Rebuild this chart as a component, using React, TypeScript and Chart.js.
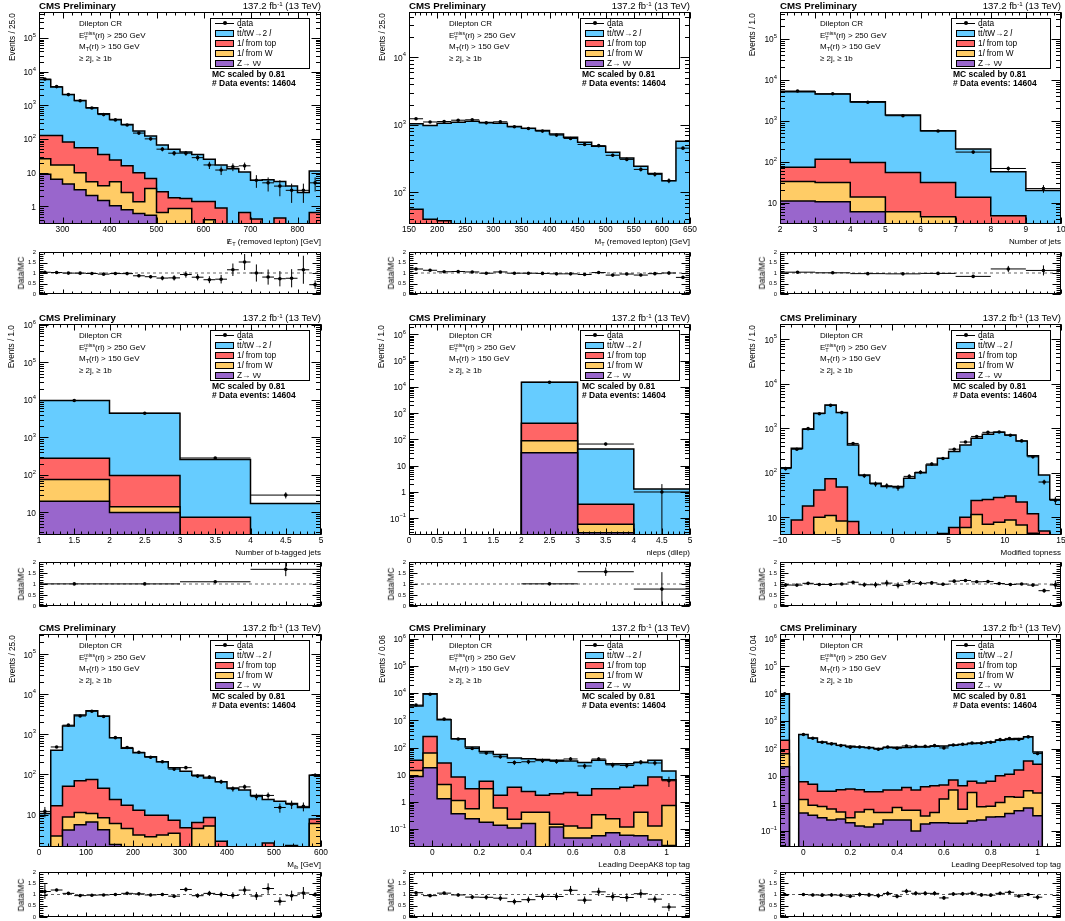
import React, { useEffect, useRef } from 'react';
import { Chart, registerables } from 'chart.js';

Chart.register(...registerables);

const FONT = "'Liberation Sans', Arial, Helvetica, sans-serif";
const C_DILEP = '#66ccff';
const C_TOP = '#ff6666';
const C_W = '#ffcc66';
const C_ZNN = '#9966cc';
const TINY = 1e-7;

// ================= DATA =================
// Panel 1: MET (removed lepton), 250-850, 25 GeV bins
const metRange = [250, 850];
const metYRange = [0.32, 5.9e5];
const metDecades = [0, 1, 2, 3, 4, 5];
const metXTicks = [300, 400, 500, 600, 700, 800];
const metDilep = [5672, 3392, 2009, 1325, 795, 525, 356, 254, 163, 116, 63.3, 47.7, 39.3, 33.6, 23.6, 16.1, 13, 9.84, 5.58, 6.2, 5.05, 4.0, 2.6, 10.6];
const metTop = [102, 111, 64, 45, 49.6, 30.9, 18.6, 13.4, 8.63, 3.3, 2.04, 0.93, 0.83, 1.4, 1.0, 0.9, 0, 0.66, 0.42, 0, 0.45, 0, 0, 0.66];
const metW = [17, 10.6, 12.4, 6.9, 3.3, 2.6, 4.35, 1.8, 0.75, 2.85, 0.66, 0.87, 0.87, 0, 0.4, 0, 0, 0, 0, 0, 0, 0, 0, 0];
const metZnn = [9.0, 6.4, 4.6, 3.1, 2.1, 1.5, 1.05, 0.8, 0.62, 0.55, 0, 0, 0, 0, 0, 0, 0, 0, 0, 0, 0, 0, 0, 0];
const metData = [6000, 3600, 2080, 1370, 830, 530, 370, 262, 150, 101, 50, 38, 38, 28, 17, 12, 15, 16, 6, 5, 4, 3, 3, 5];

// Panel 2: MT (removed lepton), 150-650
const mtRange = [150, 650];
const mtYRange = [34, 4.7e4];
const mtDecades = [2, 3, 4];
const mtXTicks = [150, 200, 250, 300, 350, 400, 450, 500, 550, 600, 650];
const mtDilep = [979, 937, 1020, 1095, 1133, 1083, 1058, 945, 891, 824, 735, 655, 552, 482, 393, 324, 243, 191, 149, 572];
const mtTop = [56, 40, 38, 0, 0, 0, 0, 0, 0, 0, 0, 0, 0, 0, 0, 0, 0, 0, 0, 0];
const mtW = [0, 0, 0, 0, 0, 0, 0, 0, 0, 0, 0, 0, 0, 0, 0, 0, 0, 0, 0, 0];
const mtZnn = [0, 0, 0, 0, 0, 0, 0, 0, 0, 0, 0, 0, 0, 0, 0, 0, 0, 0, 0, 0];
const mtData = [1232, 1104, 1121, 1172, 1190, 1072, 1111, 936, 882, 808, 706, 629, 513, 492, 354, 308, 219, 185, 149, 452];

// Panel 3: Number of jets, 2-10
const njRange = [2, 10];
const njYRange = [3.0, 4.5e5];
const njDecades = [1, 2, 3, 4, 5];
const njXTicks = [2, 3, 4, 5, 6, 7, 8, 9, 10];
const njDilep = [5027, 4366, 2805, 1321, 539, 190.5, 52.2, 19.6];
const njTop = [40.5, 83, 81.3, 48, 26.5, 13.5, 4.8, 0];
const njW = [21.6, 20.5, 7.7, 6.0, 4.5, 0, 0, 0];
const njZnn = [10.9, 10.5, 6.0, 0, 0, 0, 0, 0];
const njData = [5300, 4525, 2813, 1320, 559, 171, 68, 22];

// Panel 4: Number of b-tagged jets, 1-5
const nbRange = [1, 5];
const nbYRange = [2.5, 1.06e6];
const nbDecades = [1, 2, 3, 4, 5, 6];
const nbXTicks = [1, 1.5, 2, 2.5, 3, 3.5, 4, 4.5, 5];
const nbDilep = [9322, 4304, 249.6, 17.4];
const nbTop = [202, 81.8, 7.4, 0];
const nbW = [56, 4.2, 0, 0];
const nbZnn = [20, 10, 0, 0];
const nbData = [9650, 4420, 283, 29];

// Panel 5: nleps (dilep), 0-5
const nlRange = [0, 5];
const nlYRange = [0.023, 2.5e6];
const nlDecades = [-1, 0, 1, 2, 3, 4, 5, 6];
const nlXTicks = [0, 0.5, 1, 1.5, 2, 2.5, 3, 3.5, 4, 4.5, 5];
const nlDilep = [0, 0, 14585, 42.66, 1.3];
const nlTop = [0, 0, 326, 0.281, 0];
const nlW = [0, 0, 58, 0.031, 0];
const nlZnn = [0, 0, 31, 0.028, 0];
const nlData = [0, 0, 15100, 67, 1];

// Panel 6: Modified topness, -10..15
const tpRange = [-10, 15];
const tpYRange = [4.0, 2.2e5];
const tpDecades = [1, 2, 3, 4, 5];
const tpXTicks = [-10, -5, 0, 5, 10, 15];
const tpDilep = [130, 346.3, 932, 2129, 3267, 2202, 414, 89, 58, 49, 49, 75, 100, 150, 207.7, 294.1, 412, 571.3, 705, 782, 680, 498, 228, 84.1, 25];
const tpTop = [0, 8.7, 18, 31, 62.1, 39.7, 8, 0, 0, 0, 0, 0, 0, 0, 4.3, 5.9, 4.1, 12.2, 18, 20.3, 21.3, 15.3, 7.6, 4.9, 0];
const tpW = [0, 0, 0, 10, 10.9, 8.3, 0, 0, 0, 0, 0, 0, 0, 0, 0, 0, 5.9, 11.5, 7, 7.7, 8.7, 6.7, 4.4, 0, 0];
const tpZnn = [0, 0, 0, 0, 0, 0, 0, 0, 0, 0, 0, 0, 0, 0, 0, 0, 0, 0, 0, 0, 0, 0, 0, 0, 0];
const tpData = [124, 337, 979, 2127, 3273, 2250, 456, 86, 56, 51, 46, 83, 103, 158, 210, 339, 490, 655, 810, 826, 696, 520, 228, 62, 24];

// Panel 7: M_lb, 0-600
const mlbRange = [0, 600];
const mlbYRange = [1.55, 3.2e5];
const mlbDecades = [1, 2, 3, 4, 5];
const mlbXTicks = [0, 100, 200, 300, 400, 500, 600];
const mlbDilep = [10.6, 388.5, 1569, 2960, 3825, 2815, 806.3, 433, 335.2, 266.4, 197.4, 139.8, 116.3, 89.7, 73.6, 63.85, 46, 41, 30, 21.75, 21.5, 17.3, 15, 88.3];
const mlbTop = [0, 13.6, 42.3, 58.8, 64.4, 36.7, 17.7, 12.5, 9.7, 6.8, 6.5, 3.8, 4.7, 1.8, 3.2, 2.15, 0, 0, 0, 1.95, 0, 1.7, 0, 1.7];
const mlbW = [0, 2.9, 4.6, 5.6, 4.1, 4.1, 4.2, 4.5, 3.1, 2.8, 3.1, 3.4, 0, 4.5, 5.2, 0, 0, 0, 0, 0, 0, 0, 0, 6.0];
const mlbZnn = [0, 0, 4.1, 5.6, 6.5, 4.2, 1.8, 0, 0, 0, 0, 0, 0, 0, 0, 0, 0, 0, 0, 0, 0, 0, 0, 0];
const mlbData = [12, 486, 1700, 2880, 3780, 2800, 830, 473, 358, 270, 207, 136, 148, 91, 86, 66, 44, 49, 28, 30, 15, 18, 16, 96];

// Panel 8: Leading DeepAK8 top tag, -0.1..1.1
const ak8Range = [-0.1, 1.1];
const ak8YRange = [0.022, 1.5e6];
const ak8Decades = [-1, 0, 1, 2, 3, 4, 5, 6];
const ak8XTicks = [0, 0.2, 0.4, 0.6, 0.8, 1];
const ak8Dilep = [3346, 9343, 1023, 202.8, 100.95, 66.2, 53.25, 37.5, 36.6, 34.25, 32, 29.8, 26.25, 30.95, 22.35, 21.9, 24, 25.8, 7.1, 0];
const ak8Top = [19.6, 194, 22.6, 7.06, 2.49, 2.75, 1.15, 3.27, 1.98, 1.33, 1.85, 2.07, 1.64, 2.71, 2.81, 3.38, 3.58, 8.07, 5.76, 0];
const ak8W = [5.7, 45, 3.1, 0.77, 0.32, 2.87, 0.46, 0.12, 0.26, 0.42, 0.03, 0.083, 0.063, 0.283, 0.166, 0.06, 0.363, 0.09, 0.715, 0];
const ak8Znn = [8.7, 18, 1.3, 0.37, 0.24, 0.18, 0.14, 0.11, 0.16, 0, 0.12, 0.047, 0.047, 0.057, 0.074, 0.06, 0.057, 0.04, 0.025, 0];
const ak8Data = [3650, 9120, 1113, 207, 92, 63, 46, 28, 30, 33, 31, 38, 21, 38, 23, 22, 29, 27, 6, 0];

// Panel 9: Leading DeepResolved top tag, -0.1..1.1
const resRange = [-0.1, 1.1];
const resYRange = [0.026, 1.5e6];
const resDecades = [-1, 0, 1, 2, 3, 4, 5, 6];
const resXTicks = [0, 0.2, 0.4, 0.6, 0.8, 1];
const resDilep = [9800, 0, 318.8, 240, 172.2, 149.2, 129.8, 118.6, 111.8, 106.3, 97.3, 105.9, 108.9, 105.15, 111.9, 110.9, 117.6, 120.3, 125.8, 135.6, 145.6, 155.4, 168.6, 191.7, 202.4, 215.3, 233, 48, 0, 0];
const resTop = [135, 0, 4.8, 4.13, 2.03, 2.17, 2.71, 3.1, 2.71, 2.1, 2.23, 2.63, 2.39, 3.28, 2.53, 3.75, 3.93, 3.25, 4.1, 3.78, 3.9, 4.84, 5.6, 9.21, 9.84, 15.0, 32.1, 24.6, 0, 0];
const resW = [43, 0, 0.95, 0.5, 0.47, 0.38, 0.22, 0.1, 0.34, 0.46, 0.29, 0.22, 0.46, 0.32, 0.47, 0.17, 0.27, 1.25, 2.91, 0.43, 2.27, 0.51, 0.48, 0.76, 1.33, 1.16, 2.21, 2.04, 0, 0];
const resZnn = [22, 0, 0.45, 0.37, 0.3, 0.25, 0.27, 0.2, 0.15, 0.14, 0.18, 0.25, 0.25, 0.25, 0.1, 0.18, 0.2, 0.2, 0.19, 0.19, 0.23, 0.25, 0.32, 0.33, 0.43, 0.54, 0.69, 0.36, 0, 0];
const resData = [10000, 0, 325, 240, 170, 149, 129, 113, 115, 107, 95, 114, 103, 125, 121, 121, 128, 106, 136, 144, 160, 158, 170, 212, 235, 216, 268, 66, 0, 0];

const ratioTicks = [0, 0.5, 1, 1.5, 2];
const ratioLabels = ['0', '0.5', '1', '1.5', '2'];

// ================= GEOMETRY =================
const COL_X = [39, 409, 780];
const COL_WID = [282, 281, 281];
const ROW_TOP = [12, 324, 634];
const ROW_BOT = [224, 535, 847];
const RAT_TOP = [252, 562, 872];
const RAT_BOT = [294, 606, 917];
const PAD_L = 40;
const PAD_R = 10;
const PAD_T = 4;
const X_AX_H = 16;

type Spec = {
  col: number; row: number;
  range: number[]; yRange: number[]; decades: number[];
  xTicks: number[]; xMinor: number;
  yTitle: string; xTitle: React.ReactNode;
  dilep: number[]; top: number[]; w: number[]; znn: number[]; data: number[];
};

const Sub = ({ children }: any) => (
  <span style={{ fontSize: '0.7em', position: 'relative', top: '0.35em' }}>{children}</span>
);
const Sup = ({ children }: any) => (
  <span style={{ fontSize: '0.65em', position: 'relative', top: '-0.5em' }}>{children}</span>
);
const SlashE = () => (
  <span style={{ position: 'relative', display: 'inline-block' }}>
    E
    <span style={{ position: 'absolute', left: '0.12em', top: 0 }}>/</span>
  </span>
);

const PANELS: Spec[] = [
  { col: 0, row: 0, range: metRange, yRange: metYRange, decades: metDecades, xTicks: metXTicks, xMinor: 20, yTitle: 'Events / 25.0',
    xTitle: <><SlashE /><Sub>T</Sub> (removed lepton) [GeV]</>, dilep: metDilep, top: metTop, w: metW, znn: metZnn, data: metData },
  { col: 1, row: 0, range: mtRange, yRange: mtYRange, decades: mtDecades, xTicks: mtXTicks, xMinor: 10, yTitle: 'Events / 25.0',
    xTitle: <>M<Sub>T</Sub> (removed lepton) [GeV]</>, dilep: mtDilep, top: mtTop, w: mtW, znn: mtZnn, data: mtData },
  { col: 2, row: 0, range: njRange, yRange: njYRange, decades: njDecades, xTicks: njXTicks, xMinor: 0.2, yTitle: 'Events / 1.0',
    xTitle: <>Number of jets</>, dilep: njDilep, top: njTop, w: njW, znn: njZnn, data: njData },
  { col: 0, row: 1, range: nbRange, yRange: nbYRange, decades: nbDecades, xTicks: nbXTicks, xMinor: 0.1, yTitle: 'Events / 1.0',
    xTitle: <>Number of b-tagged jets</>, dilep: nbDilep, top: nbTop, w: nbW, znn: nbZnn, data: nbData },
  { col: 1, row: 1, range: nlRange, yRange: nlYRange, decades: nlDecades, xTicks: nlXTicks, xMinor: 0.1, yTitle: 'Events / 1.0',
    xTitle: <>nleps (dilep)</>, dilep: nlDilep, top: nlTop, w: nlW, znn: nlZnn, data: nlData },
  { col: 2, row: 1, range: tpRange, yRange: tpYRange, decades: tpDecades, xTicks: tpXTicks, xMinor: 1, yTitle: 'Events / 1.0',
    xTitle: <>Modified topness</>, dilep: tpDilep, top: tpTop, w: tpW, znn: tpZnn, data: tpData },
  { col: 0, row: 2, range: mlbRange, yRange: mlbYRange, decades: mlbDecades, xTicks: mlbXTicks, xMinor: 20, yTitle: 'Events / 25.0',
    xTitle: <>M<Sub><i>l</i>b</Sub> [GeV]</>, dilep: mlbDilep, top: mlbTop, w: mlbW, znn: mlbZnn, data: mlbData },
  { col: 1, row: 2, range: ak8Range, yRange: ak8YRange, decades: ak8Decades, xTicks: ak8XTicks, xMinor: 0.04, yTitle: 'Events / 0.06',
    xTitle: <>Leading DeepAK8 top tag</>, dilep: ak8Dilep, top: ak8Top, w: ak8W, znn: ak8Znn, data: ak8Data },
  { col: 2, row: 2, range: resRange, yRange: resYRange, decades: resDecades, xTicks: resXTicks, xMinor: 0.04, yTitle: 'Events / 0.04',
    xTitle: <>Leading DeepResolved top tag</>, dilep: resDilep, top: resTop, w: resW, znn: resZnn, data: resData },
];

// ================= HELPERS =================
function minorList(lo: number, hi: number, step: number) {
  const out: number[] = [];
  for (let k = Math.ceil(lo / step - 1e-6); k * step <= hi + 1e-9; k++) out.push(+(k * step).toFixed(6));
  return out;
}
function logMinors(min: number, max: number) {
  const out: number[] = [];
  for (let e = Math.floor(Math.log10(min)); e <= Math.ceil(Math.log10(max)); e++) {
    for (let m = 2; m <= 9; m++) {
      const v = m * Math.pow(10, e);
      if (v > min && v < max) out.push(v);
    }
  }
  return out;
}
function fmtX(v: number) {
  return v < 0 ? '\u2212' + String(Math.abs(v)) : String(v);
}
function makeEdges(range: number[], n: number) {
  return Array.from({ length: n + 1 }, (_, i) => range[0] + ((range[1] - range[0]) * i) / n);
}
function stepPts(edges: number[], vals: number[]) {
  const pts = vals.map((v, i) => ({ x: edges[i], y: v > 0 ? v : TINY }));
  const last = vals[vals.length - 1];
  pts.push({ x: edges[vals.length], y: last > 0 ? last : TINY });
  return pts;
}
function errPts(edges: number[], vals: number[], errs: number[], floor: number) {
  const pts: any[] = [];
  vals.forEach((v, i) => {
    if (!(v > 0) || !isFinite(v)) return;
    const xc = (edges[i] + edges[i + 1]) / 2;
    pts.push({ x: edges[i], y: v }, { x: edges[i + 1], y: v }, { x: xc, y: null });
    pts.push({ x: xc, y: Math.max(v - errs[i], floor) }, { x: xc, y: v + errs[i] }, { x: xc, y: null });
  });
  return pts;
}

const rootAxesPlugin = {
  id: 'rootAxes',
  afterDatasetsDraw(chart: any, _args: any, o: any) {
    const { ctx, chartArea: a } = chart;
    const xs = chart.scales.x;
    const ys = chart.scales.y;
    ctx.save();
    ctx.strokeStyle = '#000';
    ctx.lineWidth = 1;
    const L = Math.round(a.left) + 0.5;
    const R = Math.round(a.right) - 0.5;
    const T = Math.round(a.top) + 0.5;
    const B = Math.round(a.bottom) - 0.5;
    ctx.beginPath();
    const xt = (v: number, len: number) => {
      if (v < xs.min - 1e-9 || v > xs.max + 1e-9) return;
      const p = Math.round(xs.getPixelForValue(v)) + 0.5;
      ctx.moveTo(p, B); ctx.lineTo(p, B - len);
      ctx.moveTo(p, T); ctx.lineTo(p, T + len);
    };
    const yt = (v: number, len: number) => {
      if (v < ys.min - 1e-12 || v > ys.max) return;
      const p = Math.round(ys.getPixelForValue(v)) + 0.5;
      ctx.moveTo(L, p); ctx.lineTo(L + len, p);
      ctx.moveTo(R, p); ctx.lineTo(R - len, p);
    };
    o.xMajor.forEach((v: number) => xt(v, o.xLen[0]));
    o.xMinor.forEach((v: number) => xt(v, o.xLen[1]));
    o.yMajor.forEach((v: number) => yt(v, o.yLen[0]));
    o.yMinor.forEach((v: number) => yt(v, o.yLen[1]));
    ctx.stroke();
    ctx.strokeRect(L, T, R - L, B - T);

    ctx.fillStyle = '#000';
    ctx.textAlign = 'right';
    ctx.textBaseline = 'middle';
    const xr = a.left - 3;
    if (o.log) {
      const big = `8.4px ${FONT}`;
      const small = `5.8px ${FONT}`;
      o.decades.forEach((e: number) => {
        const py = ys.getPixelForValue(Math.pow(10, e));
        if (e === 0 || e === 1) {
          ctx.font = big;
          ctx.fillText(e === 0 ? '1' : '10', xr, py + 1);
        } else {
          const es = e < 0 ? '\u2212' + String(-e) : String(e);
          ctx.font = small;
          const we = ctx.measureText(es).width;
          ctx.fillText(es, xr, py - 2.5);
          ctx.font = big;
          ctx.fillText('10', xr - we, py + 1);
        }
      });
    } else {
      ctx.font = `5.8px ${FONT}`;
      o.yMajor.forEach((v: number, i: number) => {
        const py = ys.getPixelForValue(v);
        ctx.fillText(o.yLabels[i], xr, py);
      });
    }
    ctx.restore();
  },
};

function MainChart({ s }: { s: Spec }) {
  const ref = useRef<HTMLCanvasElement>(null);
  const fx = COL_X[s.col], fw = COL_WID[s.col], fy = ROW_TOP[s.row], fb = ROW_BOT[s.row];
  const fh = fb - fy;
  const cw = fw + PAD_L + PAD_R;
  const ch = fh + PAD_T + X_AX_H;
  useEffect(() => {
    const n = s.data.length;
    const edges = makeEdges(s.range, n);
    const cZ = s.znn.slice();
    const cW = cZ.map((v, i) => v + s.w[i]);
    const cT = cW.map((v, i) => v + s.top[i]);
    const cD = cT.map((v, i) => v + s.dilep[i]);
    const hist = (vals: number[], color: string, order: number) => ({
      data: stepPts(edges, vals), stepped: 'before', fill: 'start', backgroundColor: color,
      borderColor: '#000', borderWidth: 1.5, pointRadius: 0, order, tension: 0,
    });
    const dErr = s.data.map((v) => Math.sqrt(v));
    const markers = s.data
      .map((v, i) => ({ x: (edges[i] + edges[i + 1]) / 2, y: v }))
      .filter((p) => p.y > 0);
    const chart = new Chart(ref.current as HTMLCanvasElement, {
      type: 'line',
      data: {
        datasets: [
          hist(cD, C_DILEP, 6),
          hist(cT, C_TOP, 5),
          hist(cW, C_W, 4),
          hist(cZ, C_ZNN, 3),
          { data: errPts(edges, s.data, dErr, TINY), borderColor: '#000', borderWidth: 1, pointRadius: 0, spanGaps: false, fill: false, order: 2 },
          { data: markers, showLine: false, pointRadius: 1.8, pointBackgroundColor: '#000', pointBorderWidth: 0, order: 1 },
        ] as any,
      },
      options: {
        responsive: false,
        animation: false,
        devicePixelRatio: 1,
        events: [],
        layout: { padding: { left: 0, right: PAD_R, top: PAD_T, bottom: 0 } },
        scales: {
          x: {
            type: 'linear', min: s.range[0], max: s.range[1],
            afterBuildTicks: (sc: any) => { sc.ticks = s.xTicks.map((v) => ({ value: v })); },
            afterFit: (sc: any) => { sc.height = X_AX_H; },
            ticks: { autoSkip: false, maxRotation: 0, padding: 1, color: '#000', font: { family: FONT, size: 8.4 }, callback: (v: any) => fmtX(Number(v)) },
            grid: { display: false, drawTicks: false },
            border: { display: false },
          },
          y: {
            type: 'logarithmic', min: s.yRange[0], max: s.yRange[1],
            afterFit: (sc: any) => { sc.width = PAD_L; },
            ticks: { display: false },
            grid: { display: false, drawTicks: false },
            border: { display: false },
          },
        },
        plugins: {
          legend: { display: false },
          tooltip: { enabled: false },
          rootAxes: {
            log: true, decades: s.decades,
            xMajor: s.xTicks, xMinor: minorList(s.range[0], s.range[1], s.xMinor),
            yMajor: s.decades.map((e) => Math.pow(10, e)), yMinor: logMinors(s.yRange[0], s.yRange[1]),
            xLen: [6, 3], yLen: [9, 4.5],
          },
        } as any,
      } as any,
      plugins: [rootAxesPlugin],
    });
    return () => chart.destroy();
  }, []);
  return (
    <canvas ref={ref} width={cw} height={ch}
      style={{ position: 'absolute', left: fx - PAD_L, top: fy - PAD_T, width: cw, height: ch }} />
  );
}

function RatioChart({ s }: { s: Spec }) {
  const ref = useRef<HTMLCanvasElement>(null);
  const fx = COL_X[s.col], fw = COL_WID[s.col], rt = RAT_TOP[s.row], rb = RAT_BOT[s.row];
  const rh = rb - rt;
  const cw = fw + PAD_L + PAD_R;
  const ch = rh + PAD_T + 4;
  useEffect(() => {
    const n = s.data.length;
    const edges = makeEdges(s.range, n);
    const tot = s.dilep.map((v, i) => v + s.top[i] + s.w[i] + s.znn[i]);
    const ratio = s.data.map((d, i) => (tot[i] > 0 && d > 0 ? d / tot[i] : NaN));
    const rErr = s.data.map((d, i) => (tot[i] > 0 ? Math.sqrt(d) / tot[i] : 0));
    const markers = ratio
      .map((v, i) => ({ x: (edges[i] + edges[i + 1]) / 2, y: v }))
      .filter((p) => isFinite(p.y));
    const chart = new Chart(ref.current as HTMLCanvasElement, {
      type: 'line',
      data: {
        datasets: [
          { data: [{ x: s.range[0], y: 1 }, { x: s.range[1], y: 1 }], borderColor: '#666', borderWidth: 1, borderDash: [3, 3], pointRadius: 0, fill: false, order: 3 },
          { data: errPts(edges, ratio, rErr, -1), borderColor: '#000', borderWidth: 1, pointRadius: 0, spanGaps: false, fill: false, order: 2 },
          { data: markers, showLine: false, pointRadius: 1.8, pointBackgroundColor: '#000', pointBorderWidth: 0, order: 1 },
        ] as any,
      },
      options: {
        responsive: false,
        animation: false,
        devicePixelRatio: 1,
        events: [],
        layout: { padding: { left: 0, right: PAD_R, top: PAD_T, bottom: 0 } },
        scales: {
          x: {
            type: 'linear', min: s.range[0], max: s.range[1],
            afterFit: (sc: any) => { sc.height = 4; },
            ticks: { display: false },
            grid: { display: false, drawTicks: false },
            border: { display: false },
          },
          y: {
            type: 'linear', min: 0, max: 2,
            afterFit: (sc: any) => { sc.width = PAD_L; },
            ticks: { display: false },
            grid: { display: false, drawTicks: false },
            border: { display: false },
          },
        },
        plugins: {
          legend: { display: false },
          tooltip: { enabled: false },
          rootAxes: {
            log: false, yLabels: ratioLabels,
            xMajor: s.xTicks, xMinor: minorList(s.range[0], s.range[1], s.xMinor),
            yMajor: ratioTicks, yMinor: minorList(0, 2, 0.1),
            xLen: [4, 2], yLen: [8, 4],
          },
        } as any,
      } as any,
      plugins: [rootAxesPlugin],
    });
    return () => chart.destroy();
  }, []);
  return (
    <canvas ref={ref} width={cw} height={ch}
      style={{ position: 'absolute', left: fx - PAD_L, top: rt - PAD_T, width: cw, height: ch }} />
  );
}

// ================= TEXT OVERLAYS =================
function Txt({ x, cy, size, bold, right, children }: any) {
  return (
    <div style={{
      position: 'absolute', left: x, top: cy - 0.49 * size, fontFamily: FONT, fontSize: size,
      lineHeight: `${size}px`, fontWeight: bold ? 'bold' : 'normal', whiteSpace: 'nowrap', color: '#000',
      transform: right ? 'translateX(-100%)' : undefined,
    }}>{children}</div>
  );
}

function VTitleTop({ x, top, size, children }: any) {
  return (
    <div style={{ position: 'absolute', left: x, top, width: 0, height: 0 }}>
      <div style={{
        position: 'absolute', right: 0, top: -size / 2, fontFamily: FONT, fontSize: size, lineHeight: `${size}px`,
        whiteSpace: 'nowrap', transformOrigin: 'right center', transform: 'rotate(-90deg)', color: '#000',
      }}>{children}</div>
    </div>
  );
}

function VTitleCenter({ x, cy, size, children }: any) {
  return (
    <div style={{
      position: 'absolute', left: x, top: cy, fontFamily: FONT, fontSize: size, lineHeight: `${size}px`,
      whiteSpace: 'nowrap', transform: 'translate(-50%, -50%) rotate(-90deg)', color: '#000',
    }}>{children}</div>
  );
}

const EMiss = () => (
  <>
    E
    <span style={{ position: 'relative', display: 'inline-block' }}>
      <span style={{ visibility: 'hidden', fontSize: 5.2 }}>miss</span>
      <span style={{ position: 'absolute', left: 0, top: -3.2, fontSize: 5.2, lineHeight: '8px' }}>miss</span>
      <span style={{ position: 'absolute', left: 0, top: 1.2, fontSize: 5.6, lineHeight: '8px' }}>T</span>
    </span>
  </>
);

const LEGEND_ROWS: { kind: string; color?: string; label: React.ReactNode }[] = [
  { kind: 'data', label: <>data</> },
  { kind: 'box', color: C_DILEP, label: <>t<span style={{ textDecoration: 'overline' }}>t</span>/tW{'\u2192'}2 <i>l</i></> },
  { kind: 'box', color: C_TOP, label: <>1<i>l</i> from top</> },
  { kind: 'box', color: C_W, label: <>1<i>l</i> from W</> },
  { kind: 'box', color: C_ZNN, label: <>Z{'\u2192'} {'\u03bd\u03bd'}</> },
];

function Legend({ x, y }: any) {
  return (
    <div style={{ position: 'absolute', left: x, top: y, width: 100, height: 51, border: '1px solid #000', boxSizing: 'border-box', background: '#fff' }}>
      {LEGEND_ROWS.map((r, i) => {
        const cy = 4.5 + i * 10;
        return (
          <React.Fragment key={i}>
            {r.kind === 'data' ? (
              <>
                <div style={{ position: 'absolute', left: 4, top: cy - 0.5, width: 19, height: 1, background: '#000' }} />
                <div style={{ position: 'absolute', left: 11.5, top: cy - 2, width: 4, height: 4, borderRadius: 2, background: '#000' }} />
              </>
            ) : (
              <div style={{ position: 'absolute', left: 4, top: cy - 3.5, width: 19, height: 7, background: r.color, border: '1px solid #000', boxSizing: 'border-box' }} />
            )}
            <Txt x={26} cy={cy} size={8.3}>{r.label}</Txt>
          </React.Fragment>
        );
      })}
    </div>
  );
}

function Overlay({ s }: { s: Spec }) {
  const fx = COL_X[s.col], fw = COL_WID[s.col], fy = ROW_TOP[s.row], fb = ROW_BOT[s.row];
  const rt = RAT_TOP[s.row], rb = RAT_BOT[s.row];
  return (
    <>
      <Txt x={fx} cy={fy - 6.5} size={9.7} bold>CMS Preliminary</Txt>
      <Txt x={fx + fw} cy={fy - 6.5} size={9.5} right>137.2 fb<Sup>-1</Sup> (13 TeV)</Txt>
      <VTitleTop x={fx - 26.6} top={fy + 1} size={8.2}>{s.yTitle}</VTitleTop>
      <Txt x={fx + 40} cy={fy + 11.5} size={8}>Dilepton CR</Txt>
      <Txt x={fx + 40} cy={fy + 24.3} size={8}><EMiss />(rl) &gt; 250 GeV</Txt>
      <Txt x={fx + 40} cy={fy + 35.3} size={8}>M<Sub>T</Sub>(rl) &gt; 150 GeV</Txt>
      <Txt x={fx + 40} cy={fy + 46.7} size={8}>{'\u2265'} 2j, {'\u2265'} 1b</Txt>
      <Legend x={fx + 171} y={fy + 5.5} />
      <Txt x={fx + 173} cy={fy + 62.3} size={8.5} bold>MC scaled by 0.81</Txt>
      <Txt x={fx + 173} cy={fy + 71} size={8.5} bold># Data events: 14604</Txt>
      <Txt x={fx + fw} cy={fb + 17.5} size={8} right>{s.xTitle}</Txt>
      <VTitleCenter x={fx - 17.6} cy={(rt + rb) / 2} size={8.3}>Data/MC</VTitleCenter>
    </>
  );
}

export default function App() {
  return (
    <div style={{ position: 'absolute', left: 0, top: 0, width: 1065, height: 921, background: '#fff', overflow: 'hidden' }}>
      {PANELS.map((s, i) => (
        <React.Fragment key={i}>
          <MainChart s={s} />
          <RatioChart s={s} />
          <Overlay s={s} />
        </React.Fragment>
      ))}
    </div>
  );
}
